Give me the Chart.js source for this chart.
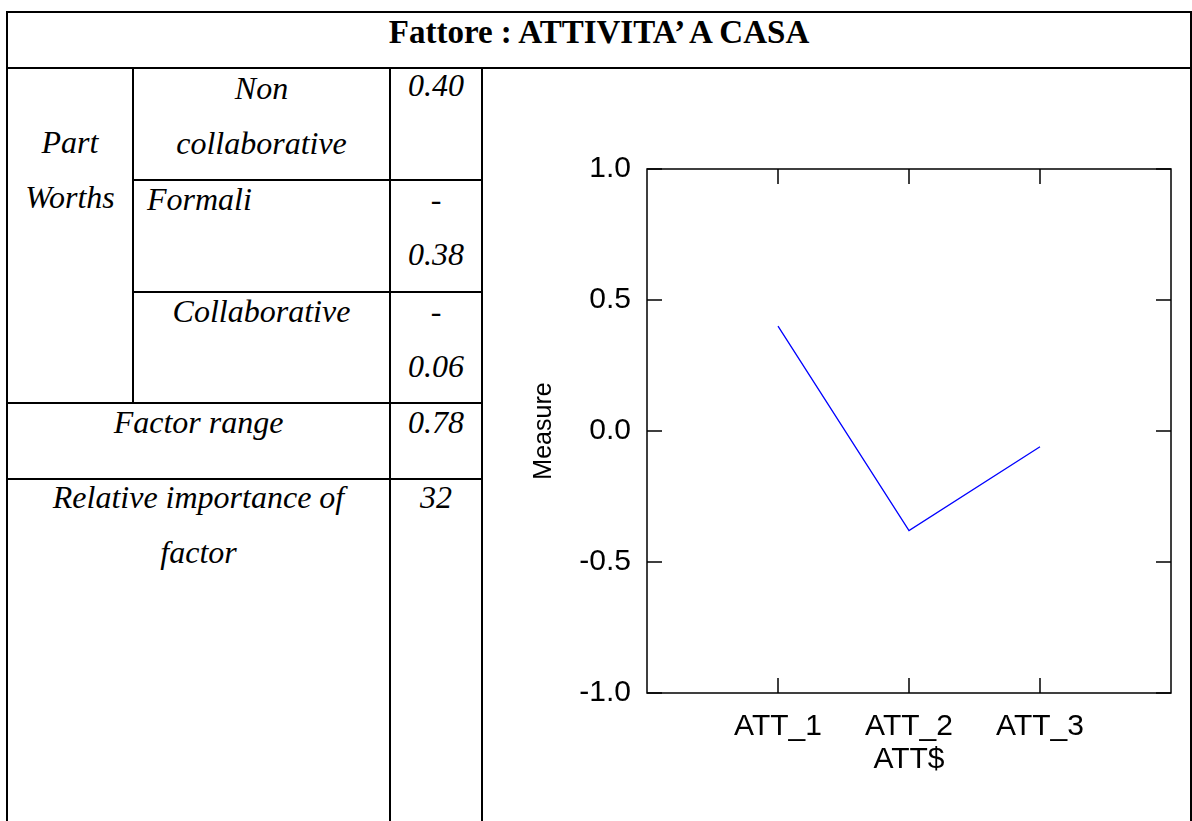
<!DOCTYPE html>
<html>
<head>
<meta charset="utf-8">
<script src="https://cdn.jsdelivr.net/npm/chart.js@4"></script>
<style>
  html, body { margin: 0; padding: 0; background: #fff; width: 1192px; height: 821px; overflow: hidden; }
  #page { position: relative; width: 1192px; height: 821px; }
  .ln { position: absolute; background: #000; }
  .tx { position: absolute; font-family: "Liberation Serif", "Times New Roman", serif; font-style: italic;
        font-size: 32px; line-height: 35.4px; white-space: nowrap; color: #000; }
  .c { text-align: center; }
  #title { font-style: normal; font-weight: bold; font-size: 33px; line-height: 36.5px; }
  #chartBox { position: absolute; left: 482px; top: 69px; width: 708px; height: 752px; }
</style>
</head>
<body>
<div id="page">
  <!-- table rules -->
  <div class="ln" style="left:6px; top:11px; width:1186px; height:2px;"></div>
  <div class="ln" style="left:6px; top:67px; width:1186px; height:2px;"></div>
  <div class="ln" style="left:132px; top:179px; width:351px; height:2px;"></div>
  <div class="ln" style="left:132px; top:291px; width:351px; height:2px;"></div>
  <div class="ln" style="left:6px; top:402px; width:477px; height:2px;"></div>
  <div class="ln" style="left:6px; top:478px; width:477px; height:2px;"></div>
  <div class="ln" style="left:6px; top:11px; width:2px; height:820px;"></div>
  <div class="ln" style="left:132px; top:67px; width:2px; height:337px;"></div>
  <div class="ln" style="left:389px; top:67px; width:2px; height:760px;"></div>
  <div class="ln" style="left:481px; top:67px; width:2px; height:760px;"></div>
  <div class="ln" style="left:1190px; top:11px; width:2px; height:820px;"></div>

  <!-- table text (top = baseline - 0.891 * font-size) -->
  <div class="tx c" id="title" style="left:7px; width:1184px; top:13.6px;">Fattore : ATTIVITA’ A CASA</div>
  <div class="tx c" style="left:7px; width:126px; top:124.5px;">Part</div>
  <div class="tx c" style="left:7px; width:126px; top:179.5px;">Worths</div>
  <div class="tx c" style="left:133px; width:257px; top:70.5px;">Non</div>
  <div class="tx c" style="left:133px; width:257px; top:125.5px;">collaborative</div>
  <div class="tx c" style="left:390px; width:92px; top:67.5px;">0.40</div>
  <div class="tx" style="left:147px; top:181.5px;">Formali</div>
  <div class="tx c" style="left:390px; width:92px; top:181.5px;">-</div>
  <div class="tx c" style="left:390px; width:92px; top:236.5px;">0.38</div>
  <div class="tx c" style="left:133px; width:257px; top:293.5px;">Collaborative</div>
  <div class="tx c" style="left:390px; width:92px; top:293.5px;">-</div>
  <div class="tx c" style="left:390px; width:92px; top:348.5px;">0.06</div>
  <div class="tx c" style="left:7px; width:383px; top:404.5px;">Factor range</div>
  <div class="tx c" style="left:390px; width:92px; top:404.5px;">0.78</div>
  <div class="tx c" style="left:7px; width:383px; top:479.5px;">Relative importance of</div>
  <div class="tx c" style="left:7px; width:383px; top:534.5px;">factor</div>
  <div class="tx c" style="left:390px; width:92px; top:479.5px;">32</div>

  <div id="chartBox"><canvas id="chart" width="708" height="752"></canvas></div>
</div>

<script>
// ---- data ----
const categories = ['ATT_1', 'ATT_2', 'ATT_3'];
const partWorths = [0.40, -0.38, -0.06];
const yTickValues = [-1.0, -0.5, 0.0, 0.5, 1.0];
const xAxisTitle = 'ATT$';
const yAxisTitle = 'Measure';

const points = categories.map((c, i) => ({ x: i + 1, y: partWorths[i] }));

const TICK = 15;
const frameTicks = {
  id: 'frameTicks',
  beforeDatasetsDraw(chart) {
    const { ctx, chartArea: a, scales: { x, y } } = chart;
    ctx.save();
    ctx.strokeStyle = '#000';
    ctx.lineWidth = 1.5;
    ctx.strokeRect(a.left, a.top, a.right - a.left, a.bottom - a.top);
    ctx.beginPath();
    categories.forEach((c, i) => {
      const px = x.getPixelForValue(i + 1);
      ctx.moveTo(px, a.top); ctx.lineTo(px, a.top + TICK);
      ctx.moveTo(px, a.bottom); ctx.lineTo(px, a.bottom - TICK);
    });
    yTickValues.forEach(v => {
      const py = y.getPixelForValue(v);
      ctx.moveTo(a.left, py); ctx.lineTo(a.left + TICK, py);
      ctx.moveTo(a.right, py); ctx.lineTo(a.right - TICK, py);
    });
    ctx.stroke();
    ctx.restore();
  }
};

const sans = '"Liberation Sans", Arial, sans-serif';

new Chart(document.getElementById('chart'), {
  type: 'line',
  data: {
    datasets: [{
      data: points,
      borderColor: '#0000ff',
      borderWidth: 1.3,
      pointRadius: 0,
      fill: false,
      tension: 0
    }]
  },
  options: {
    responsive: false,
    animation: false,
    events: [],
    layout: { padding: { left: 0, top: 100, right: 19, bottom: 0 } },
    plugins: { legend: { display: false }, tooltip: { enabled: false }, title: { display: false } },
    scales: {
      x: {
        type: 'linear',
        min: 0, max: categories.length + 1,
        grid: { display: false },
        border: { display: false },
        afterBuildTicks: (s) => { s.ticks = categories.map((c, i) => ({ value: i + 1 })); },
        afterFit: (s) => { s.height = 128; s.paddingLeft = 0; s.paddingRight = 0; },
        ticks: {
          autoSkip: false, maxRotation: 0, minRotation: 0, padding: 8,
          color: '#000', font: { family: sans, size: 30 },
          callback: (v) => categories[v - 1] ?? ''
        },
        title: {
          display: true, text: xAxisTitle, color: '#000',
          font: { family: sans, size: 30 }, padding: { top: 0, bottom: 43 }
        }
      },
      y: {
        type: 'linear',
        min: -1, max: 1,
        grid: { display: false },
        border: { display: false },
        afterBuildTicks: (s) => { s.ticks = yTickValues.map(v => ({ value: v })); },
        afterFit: (s) => { s.width = 165; s.paddingTop = 0; s.paddingBottom = 0; },
        ticks: {
          padding: 8, color: '#000', font: { family: sans, size: 30 },
          callback: (v) => Number(v).toFixed(1)
        },
        title: {
          display: true, text: yAxisTitle, color: '#000',
          font: { family: sans, size: 25 }, padding: { top: 47, bottom: 0 }
        }
      }
    }
  },
  plugins: [frameTicks]
});
</script>
</body>
</html>
